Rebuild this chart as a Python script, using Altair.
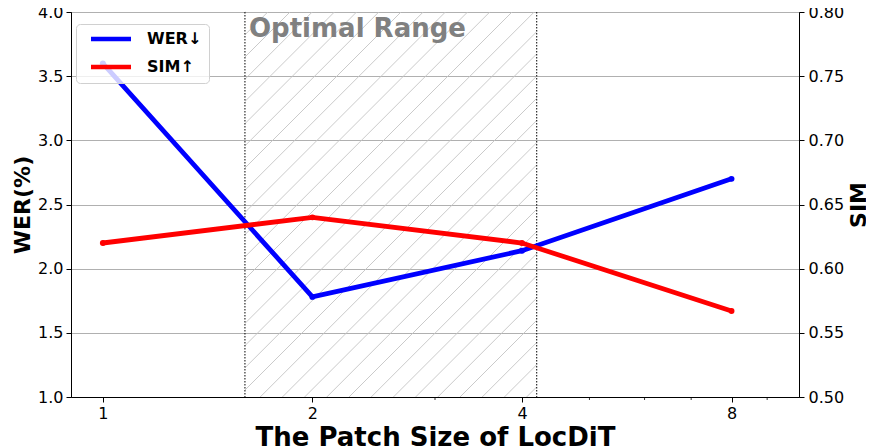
import math
import altair as alt
import pandas as pd

# ---------------- data ----------------
patch_sizes = [1, 2, 4, 8]
wer_values = [3.6, 1.78, 2.14, 2.7]
sim_values = [0.62, 0.64, 0.62, 0.567]

x_ticks = [1, 2, 4, 8]
x_minor_ticks = [3, 5, 6, 7, 9]
wer_ticks = [1.0, 1.5, 2.0, 2.5, 3.0, 3.5, 4.0]
sim_ticks = [0.50, 0.55, 0.60, 0.65, 0.70, 0.75, 0.80]

optimal_range = [1.6, 4.2]
optimal_label = "Optimal Range"
optimal_label_y = 3.87

series_names = ["WER↓", "SIM↑"]
series_colors = ["#0000ff", "#ff0000"]

# ---------------- layout ----------------
W, H = 728, 385
X_DOMAIN = [0.9, 10]
WER_DOMAIN = [1.0, 4.0]
SIM_DOMAIN = [0.5, 0.8]
FONT = "DejaVu Sans"

df_wer = pd.DataFrame({"patch": patch_sizes, "value": wer_values, "series": series_names[0]})
df_sim = pd.DataFrame({"patch": patch_sizes, "value": sim_values, "series": series_names[1]})
df_range = pd.DataFrame({"x": optimal_range})
df_label = pd.DataFrame({"x": [optimal_range[0]], "y": [optimal_label_y], "label": [optimal_label]})
df_minor = pd.DataFrame({"t": x_minor_ticks})

xscale = alt.Scale(type="log", domain=X_DOMAIN, nice=False)
wer_scale = alt.Scale(domain=WER_DOMAIN, nice=False, zero=False)
sim_scale = alt.Scale(domain=SIM_DOMAIN, nice=False, zero=False)

x_axis = alt.Axis(values=x_ticks, format="d", title="The Patch Size of LocDiT", grid=False,
                  labelFontSize=16, titleFontSize=26, titleFontWeight="bold",
                  tickSize=5, labelPadding=3, titlePadding=3, labelFlush=False)
left_axis = alt.Axis(values=wer_ticks, format=".1f", title="WER(%)", grid=True,
                     labelFontSize=16, titleFontSize=22, titleFontWeight="bold",
                     tickSize=5, labelPadding=3, titlePadding=3)
right_axis = alt.Axis(values=sim_ticks, format=".2f", title="SIM", grid=False, orient="right",
                      labelFontSize=16, titleFontSize=22, titleFontWeight="bold",
                      tickSize=5, labelPadding=4, titlePadding=5,
                      titleAngle=270, titleBaseline="top")

legend = alt.Legend(title=None, orient="none", legendX=5, legendY=12,
                    symbolType="M0,0H8", symbolSize=100, symbolStrokeWidth=4.5,
                    labelFont=FONT, labelFontSize=16, labelFontWeight="bold",
                    labelOffset=48, rowPadding=10, padding=7,
                    fillColor="rgba(255,255,255,0.8)", strokeColor="#d0d0d0",
                    cornerRadius=4)
color_enc = alt.Color("series:N", scale=alt.Scale(domain=series_names, range=series_colors),
                      legend=legend)

# hatch geometry (pixel space of the plot, converted back through the scales)
LX0, LX1 = math.log(X_DOMAIN[0]), math.log(X_DOMAIN[1])
a_px = W * (math.log(optimal_range[0]) - LX0) / (LX1 - LX0)
b_px = W * (math.log(optimal_range[1]) - LX0) / (LX1 - LX0)
SPACING = 22.2
PHASE = 19.2
ratio = X_DOMAIN[1] / X_DOMAIN[0]
yspan = WER_DOMAIN[1] - WER_DOMAIN[0]

hatch = (
    alt.Chart(alt.sequence(0, 45, as_="k"))
    .transform_calculate(c=f"{PHASE} + datum.k * {SPACING}")
    .transform_calculate(p0=f"max({a_px}, datum.c - {H})", p1=f"min({b_px}, datum.c)")
    .transform_filter("datum.p0 < datum.p1")
    .transform_calculate(
        hx0=f"{X_DOMAIN[0]} * pow({ratio}, datum.p0 / {W})",
        hx1=f"{X_DOMAIN[0]} * pow({ratio}, datum.p1 / {W})",
        hy0=f"{WER_DOMAIN[1]} - {yspan} * (datum.c - datum.p0) / {H}",
        hy1=f"{WER_DOMAIN[1]} - {yspan} * (datum.c - datum.p1) / {H}",
    )
    .mark_rule(color="#c4c4c4", strokeWidth=0.9)
    .encode(
        x=alt.X("hx0:Q", scale=xscale, axis=x_axis),
        y=alt.Y("hy0:Q", scale=wer_scale, axis=left_axis),
        x2="hx1:Q",
        y2="hy1:Q",
    )
)

vrules = alt.Chart(df_range).mark_rule(color="black", strokeWidth=1, strokeDash=[1.5, 1.5]).encode(
    x=alt.X("x:Q", scale=xscale, axis=x_axis)
)

label = alt.Chart(df_label).mark_text(
    align="left", baseline="middle", dx=4, fontSize=26, fontWeight="bold",
    color="#808080", font=FONT
).encode(
    x=alt.X("x:Q", scale=xscale, axis=x_axis),
    y=alt.Y("y:Q", scale=wer_scale, axis=left_axis),
    text="label:N",
)

minor = alt.Chart(df_minor).mark_rule(color="black", strokeWidth=0.8).encode(
    x=alt.X("t:Q", scale=xscale, axis=x_axis),
    y=alt.value(H),
    y2=alt.value(H + 3),
)

wer_line = alt.Chart(df_wer).mark_line(strokeWidth=4.8).encode(
    x=alt.X("patch:Q", scale=xscale, axis=x_axis),
    y=alt.Y("value:Q", scale=wer_scale, axis=left_axis),
    color=color_enc,
)
wer_pts = alt.Chart(df_wer).mark_circle(size=35, color=series_colors[0], opacity=1).encode(
    x=alt.X("patch:Q", scale=xscale, axis=x_axis),
    y=alt.Y("value:Q", scale=wer_scale, axis=left_axis),
)

sim_line = alt.Chart(df_sim).mark_line(strokeWidth=4.8).encode(
    x=alt.X("patch:Q", scale=xscale, axis=x_axis),
    y=alt.Y("value:Q", scale=sim_scale, axis=right_axis),
    color=color_enc,
)
sim_pts = alt.Chart(df_sim).mark_circle(size=35, color=series_colors[1], opacity=1).encode(
    x=alt.X("patch:Q", scale=xscale, axis=x_axis),
    y=alt.Y("value:Q", scale=sim_scale, axis=right_axis),
)

left = alt.layer(hatch, vrules, label, minor, wer_line, wer_pts)
right = alt.layer(sim_line, sim_pts)

chart = (
    alt.layer(left, right)
    .resolve_scale(y="independent")
    .properties(
        width=W, height=H,
        padding={"left": 63, "top": 4, "right": 67, "bottom": 51},
        autosize=alt.AutoSizeParams(type="none"),
    )
    .configure(font=FONT)
    .configure_view(stroke="black", strokeWidth=1)
    .configure_axis(domainColor="black", tickColor="black", labelColor="black",
                    titleColor="black", gridColor="#b0b0b0", gridWidth=1,
                    domainWidth=1, tickWidth=1, labelFont=FONT, titleFont=FONT)
)

chart.save("out.html", embed_options={"renderer": "svg", "actions": False})
